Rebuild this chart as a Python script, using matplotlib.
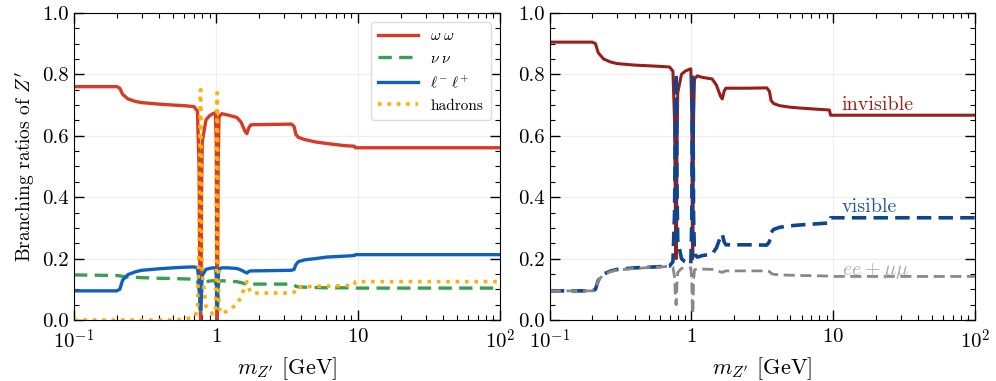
import numpy as np
import matplotlib
matplotlib.use("Agg")
import matplotlib.pyplot as plt
from matplotlib.ticker import FixedLocator, FixedFormatter, MultipleLocator, LogLocator, NullFormatter

plt.rcParams['font.family'] = 'serif'
plt.rcParams['font.serif'] = ['cmr10']
plt.rcParams['mathtext.fontset'] = 'cm'
plt.rcParams['axes.formatter.use_mathtext'] = True

#%% Données

# panneau gauche
m_L = [0.1, 0.2, 0.21, 0.22, 0.24, 0.27, 0.3, 0.4, 0.5, 0.6, 0.7, 0.74, 0.76, 0.77, 0.775,
       0.78, 0.785, 0.79, 0.80, 0.85, 0.9, 0.95, 0.99, 1.005, 1.015, 1.02, 1.025, 1.035,
       1.05, 1.1, 1.2, 1.4, 1.5, 1.6, 1.65, 1.7, 1.75, 1.8, 2.5, 3.4, 3.55, 3.65, 3.8,
       4.2, 5, 6, 8, 9.4, 9.6, 20, 50, 100]

br_ww = [0.76, 0.76, 0.755, 0.735, 0.72, 0.712, 0.708, 0.703, 0.70, 0.698, 0.695, 0.68, 0.50,
         0.15, 0.03, 0.0, 0.10, 0.40, 0.58, 0.652, 0.665, 0.672, 0.675, 0.58, 0.08, 0.0, 0.08,
         0.50, 0.662, 0.672, 0.668, 0.66, 0.645, 0.615, 0.607, 0.625, 0.635, 0.636, 0.637,
         0.638, 0.63, 0.605, 0.595, 0.588, 0.58, 0.575, 0.568, 0.566, 0.561, 0.561, 0.561, 0.561]

br_nn = [0.147, 0.145, 0.144, 0.142, 0.14, 0.139, 0.138, 0.136, 0.135, 0.134, 0.133, 0.13,
         0.10, 0.06, 0.035, 0.03, 0.045, 0.085, 0.112, 0.125, 0.127, 0.128, 0.128, 0.105, 0.045,
         0.03, 0.045, 0.105, 0.126, 0.128, 0.127, 0.125, 0.122, 0.118, 0.116, 0.116, 0.117,
         0.117, 0.117, 0.117, 0.115, 0.11, 0.108, 0.107, 0.106, 0.105, 0.105, 0.105, 0.104,
         0.104, 0.104, 0.104]

br_ll = [0.095, 0.095, 0.10, 0.13, 0.148, 0.157, 0.162, 0.167, 0.17, 0.172, 0.173, 0.17,
         0.13, 0.07, 0.04, 0.035, 0.05, 0.10, 0.145, 0.165, 0.168, 0.17, 0.17, 0.145, 0.055,
         0.04, 0.055, 0.135, 0.166, 0.17, 0.17, 0.168, 0.163, 0.156, 0.153, 0.158, 0.16, 0.16,
         0.161, 0.162, 0.165, 0.18, 0.19, 0.196, 0.20, 0.205, 0.208, 0.21, 0.213, 0.213,
         0.213, 0.213]

br_had = [0.0, 0.0, 0.0, 0.0, 0.0, 0.0, 0.0, 0.0, 0.0, 0.003, 0.01, 0.03, 0.25, 0.62, 0.74,
          0.75, 0.65, 0.35, 0.15, 0.045, 0.03, 0.02, 0.02, 0.14, 0.66, 0.74, 0.66, 0.2, 0.04,
          0.02, 0.03, 0.05, 0.075, 0.11, 0.125, 0.105, 0.09, 0.088, 0.088, 0.088, 0.09,
          0.105, 0.108, 0.108, 0.11, 0.11, 0.112, 0.113, 0.125, 0.125, 0.125, 0.125]

# panneau droit
m_R = m_L

br_inv = [0.905, 0.905, 0.90, 0.87, 0.85, 0.84, 0.835, 0.83, 0.828, 0.826, 0.824, 0.81, 0.65,
          0.35, 0.21, 0.20, 0.30, 0.55, 0.74, 0.80, 0.81, 0.815, 0.818, 0.68, 0.26, 0.20, 0.26,
          0.66, 0.785, 0.795, 0.79, 0.785, 0.765, 0.73, 0.72, 0.745, 0.755, 0.755, 0.755,
          0.756, 0.745, 0.715, 0.705, 0.698, 0.693, 0.69, 0.686, 0.684, 0.667, 0.667, 0.667, 0.667]

br_vis = [0.095, 0.095, 0.10, 0.13, 0.15, 0.16, 0.165, 0.17, 0.172, 0.174, 0.176, 0.19, 0.35,
          0.65, 0.79, 0.80, 0.70, 0.45, 0.26, 0.20, 0.19, 0.185, 0.182, 0.32, 0.74, 0.80, 0.74,
          0.34, 0.215, 0.205, 0.21, 0.215, 0.235, 0.27, 0.28, 0.255, 0.245, 0.245, 0.245,
          0.244, 0.255, 0.285, 0.295, 0.302, 0.307, 0.31, 0.314, 0.316, 0.333, 0.333, 0.333, 0.333]

br_eemm = [0.095, 0.095, 0.10, 0.13, 0.148, 0.158, 0.163, 0.168, 0.171, 0.173, 0.175, 0.172,
           0.14, 0.08, 0.055, 0.05, 0.07, 0.12, 0.155, 0.168, 0.17, 0.17, 0.17, 0.13, 0.04,
           0.02, 0.04, 0.13, 0.163, 0.167, 0.166, 0.165, 0.162, 0.157, 0.155, 0.158, 0.16,
           0.16, 0.16, 0.16, 0.158, 0.152, 0.149, 0.147, 0.146, 0.145, 0.144, 0.143, 0.142,
           0.142, 0.142, 0.142]

xticks = [0.1, 1, 10, 100]
xticklabels = ['$10^{-1}$', '$1$', '$10$', '$10^{2}$']

#%% Tracé

fig = plt.figure(figsize=(9.96, 3.81), dpi=100)
ax1 = fig.add_axes([0.0743, 0.160, 0.4277, 0.806])
ax2 = fig.add_axes([0.552, 0.160, 0.4267, 0.806])

ax1.plot(m_L, br_ww, color='#d93a26', lw=2.4, label=r'$\omega\;\omega$')
ax1.plot(m_L, br_nn, color='#3a9e52', lw=2.4, ls=(0, (4, 2.2)), label=r'$\nu\;\nu$')
ax1.plot(m_L, br_ll, color='#1060c0', lw=2.4, label=r'$\ell^{-}\;\ell^{+}$')
ax1.plot(m_L, br_had, color='#ffb000', lw=2.6, ls=(0, (1, 1.6)), label='hadrons')

ax2.plot(m_R, br_inv, color='#981e1a', lw=2.2)
ax2.plot(m_R, br_vis, color='#0d4590', lw=2.6, ls=(0, (4, 2)))
ax2.plot(m_R, br_eemm, color='#888888', lw=2.0, ls=(0, (4, 2)))

ax2.text(11.5, 0.700, 'invisible', color='#981e1a', fontsize=14.5, va='center')
ax2.text(11.5, 0.368, 'visible', color='#1f55a0', fontsize=14.5, va='center')
ax2.text(11.5, 0.160, r'$ee+\mu\mu$', color='#aaaaaa', fontsize=14.5, va='center')

for ax in (ax1, ax2):
    ax.set_xscale('log')
    ax.set_xlim(0.1, 100)
    ax.set_ylim(0, 1)
    ax.xaxis.set_major_locator(FixedLocator(xticks))
    ax.xaxis.set_major_formatter(FixedFormatter(xticklabels))
    ax.xaxis.set_minor_locator(LogLocator(base=10, subs=np.arange(2, 10)))
    ax.xaxis.set_minor_formatter(NullFormatter())
    ax.yaxis.set_major_locator(MultipleLocator(0.2))
    ax.yaxis.set_minor_locator(MultipleLocator(0.05))
    ax.yaxis.set_major_formatter(matplotlib.ticker.FormatStrFormatter('%.1f'))
    ax.tick_params(which='both', direction='in', top=True, right=True, labelsize=15)
    ax.tick_params(which='major', length=7, width=1)
    ax.tick_params(which='minor', length=3.5, width=0.8)
    ax.tick_params(axis='x', pad=6)
    ax.grid(True, which='major', color='#eeeeee', lw=0.8)
    ax.set_axisbelow(True)
    ax.set_xlabel(r"$m_{Z'}$ [GeV]", fontsize=16, labelpad=2)

ax1.set_ylabel(r"Branching ratios of $Z'$", fontsize=14)
ax1.legend(loc='upper right', fontsize=11, handlelength=2.6, frameon=True, framealpha=1,
           edgecolor='#dddddd', borderpad=0.5, labelspacing=0.55, borderaxespad=0.6)

plt.savefig('out.png', dpi=100)
